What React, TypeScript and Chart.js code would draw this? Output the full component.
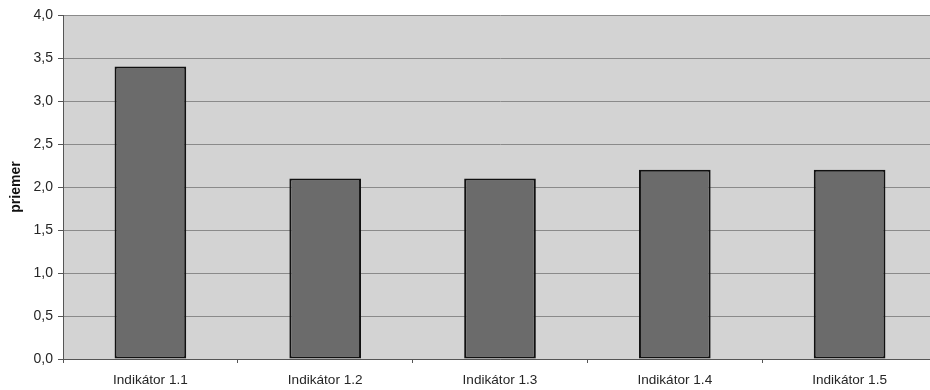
import React, { useEffect, useRef } from "react";
import { Chart, registerables } from "chart.js";

Chart.register(...registerables);

const categories = ["Indikátor 1.1", "Indikátor 1.2", "Indikátor 1.3", "Indikátor 1.4", "Indikátor 1.5"];
const averages = [3.4, 2.1, 2.1, 2.2, 2.2];
const yTitle = "priemer";

const FONT = "Liberation Sans, Arial, Helvetica, sans-serif";

const plotBackground = {
  id: "plotBackground",
  beforeDraw(chart: any) {
    const { ctx, chartArea } = chart;
    ctx.save();
    ctx.fillStyle = "#d3d3d3";
    ctx.fillRect(chartArea.left, chartArea.top, chartArea.right - chartArea.left, chartArea.bottom - chartArea.top);
    ctx.restore();
  },
};

export default function App() {
  const ref = useRef<HTMLCanvasElement>(null);

  useEffect(() => {
    const chart = new Chart(ref.current!, {
      type: "bar",
      data: {
        labels: categories,
        datasets: [
          {
            data: averages,
            backgroundColor: "#6b6b6b",
            borderColor: "#111111",
            borderWidth: 2,
            borderSkipped: false,
            categoryPercentage: 1,
            barPercentage: 0.41,
          },
        ],
      },
      options: {
        animation: false,
        responsive: false,
        maintainAspectRatio: false,
        layout: { padding: { top: 15, right: 0, bottom: 0, left: 0 } },
        plugins: { legend: { display: false }, tooltip: { enabled: false } },
        scales: {
          x: {
            offset: true,
            grid: {
              offset: true,
              drawOnChartArea: false,
              tickLength: 4,
              color: "#555555",
            },
            border: { color: "#555555", width: 1 },
            ticks: {
              padding: 9,
              color: "#262626",
              font: { family: FONT, size: 13.6 },
              maxRotation: 0,
            },
            afterFit(scale: any) {
              scale.height = 31;
            },
          },
          y: {
            min: 0,
            max: 4,
            ticks: {
              stepSize: 0.5,
              padding: 5,
              color: "#262626",
              font: { family: FONT, size: 14 },
              callback: (v: any) => Number(v).toFixed(1).replace(".", ","),
            },
            grid: {
              color: "#8a8a8a",
              tickLength: 5,
              tickColor: "#555555",
            },
            border: { color: "#555555", width: 1 },
            title: {
              display: true,
              text: yTitle,
              color: "#111111",
              font: { family: FONT, size: 14, weight: "bold" },
              padding: { top: 8, bottom: 0 },
            },
            afterFit(scale: any) {
              scale.width = 63;
            },
          },
        },
      },
      plugins: [plotBackground],
    });
    return () => chart.destroy();
  }, []);

  return (
    <div style={{ position: "fixed", left: 0, top: 0, width: 930, height: 390, overflow: "hidden", background: "#ffffff" }}>
      <canvas ref={ref} width={937} height={390} style={{ display: "block" }} />
    </div>
  );
}
